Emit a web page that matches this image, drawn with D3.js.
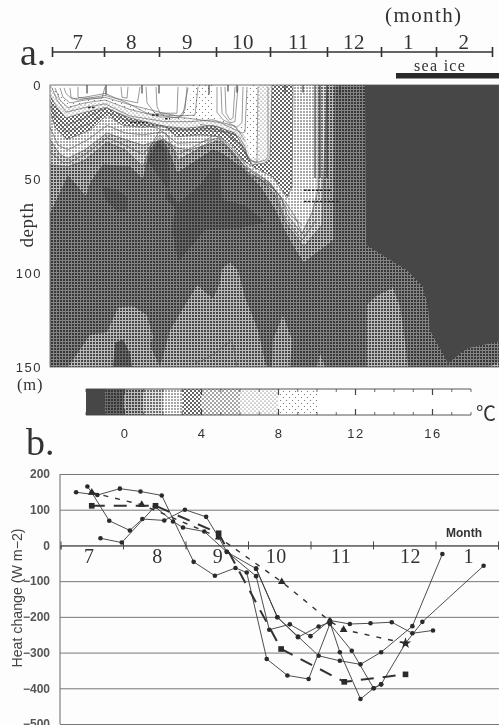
<!DOCTYPE html>
<html><head><meta charset="utf-8">
<script src="https://cdn.jsdelivr.net/npm/d3@7"></script>
<style>html,body{margin:0;padding:0;background:#fdfdfd}svg{display:block}</style>
</head><body><svg id="c" width="499" height="725"></svg>
<script>
// ---------- panel a data: time in steps (1 step = 1/11 month), depth in metres
const monthsTop = ["7","8","9","10","11","12","1","2"];
const legendBreaks = [-2,-1,0,1,2,3,4,6,8,10,18];
const legendTicks = [0,4,8,12,16];
const depthTicks = [0,50,100,150];

const iso0 = [[0,69],[3.6,48.5],[7.2,59.5],[8.2,51.5],[10.6,42.5],[16,43.5],[18.6,50.5],[20,34.5],[22,28],[23.4,33],[25.4,47],[29.4,40],[32.6,34.5],[34.4,36.5],[38,43.5],[42,54],[45,66.5],[47,78],[49.4,89.5],[50.8,94.5],[55,86],[56.6,82.5],[56.8,0],[0,0]];
const iso1 = [[0,42.5],[3.6,43.5],[7,40],[11.4,30.5],[15,34.5],[18.6,43.5],[20,33],[22,24],[23.4,26.5],[25.6,40],[29.4,34.5],[32.6,29],[35,32],[38,40],[40,48],[42.4,50.5],[45,58.5],[47,73],[50.8,86],[54.4,74.5],[55.4,0],[0,0]];
const iso2 = [[0,29],[2,37],[3.6,39],[7,34.5],[11.4,25.5],[15,29],[18.6,32],[22.6,29],[25.4,33.5],[28,34.5],[31,32],[34,29],[36.6,35.5],[38.6,42.5],[40.6,46.5],[44,52],[46.4,61],[47.4,69],[50.4,79],[52.4,68],[53.6,56],[53.6,0],[0,0]];
const iso3 = [[0.2,15],[1,22.5],[3.4,29],[8,24],[11.4,16],[14.6,21.5],[18.6,22.5],[22.6,21.5],[25.4,27.5],[30,26.5],[34,27.5],[36.6,33],[38.6,40],[40.6,43.5],[44.6,49],[46.4,56],[47.4,60],[48.4,54],[48.6,0],[0.2,0]];
const iso6 = [[0,5.5],[1.4,12],[3.2,17.5],[7,14.5],[11,12],[16,17.5],[23,22],[27,23],[32.6,21.5],[37,25.5],[39,34.5],[40.4,42.5],[43,41.5],[44,38.5],[44.4,0],[0,0]];
const iso8 = [[0.4,1.5],[2,8],[3.6,12],[7,10],[11,9],[16,13],[23,17.5],[28,18.5],[32.6,18.5],[37,21.5],[39,26.5],[40,38.5],[41.6,39],[41.6,0],[0.4,0]];
const iso10a = [[1,0],[2.4,6.5],[4,9.5],[11,6.5],[16,10.5],[23,16],[26,17],[28,8],[28.4,0]];
const iso10b = [[32.6,0],[32.6,15],[34.4,18.5],[37.4,23],[39,21],[39.6,0]];
const iceWater = [[63,0],[63.2,77],[63.2,85],[68,93],[71.4,98.5],[74.6,107.5],[75.6,118],[76,130.5],[79.6,148],[83.4,140],[89.8,136.5],[89.8,0]];
const deepPatch1 = [[10.6,54],[13.6,56],[15.6,60],[15.4,66.5],[13.6,67.5],[11,61]];
const deepPatch2 = [[19.4,40],[21.6,30.5],[23.4,35],[24,50.5],[23,60],[25,65.5],[24.4,77],[25.6,94],[31,77],[38,76],[43,73],[39,64],[34.4,61],[34,45],[32.6,44],[30,53],[25.6,63]];
const warmBottoms = [
  [[3.6,150],[8,133],[11.4,131.5],[13.6,118.5],[16.6,117.5],[19.4,122.5],[20.6,134],[20,138.5],[22,150]],
  [[22,150],[24,130.5],[29.4,106.5],[32.6,113.5],[34,105.5],[34.4,97.5],[36,94.5],[37.6,98.5],[39,113],[41.6,130.5],[43,147.5],[43.4,150]],
  [[44.4,150],[44.6,135.5],[46.6,122.5],[48.4,135.5],[48,150]],
  [[53.4,150],[54,143],[55,150]],
  [[63.4,150],[63.4,117],[65.4,112],[68.6,108],[70,118],[70.6,128.5],[71.6,150]],
  [[87.8,150],[89.8,147.5],[89.8,150]]
];
const coldHole = [[12.6,150],[13,137],[14.6,135.5],[16,142.5],[16.4,150]];
const contourLines = [
  [[0.4,1.5],[1.4,8],[3.2,14.5],[7,12],[11,10],[16,16.5],[23,19.5],[28,19.5],[32.6,18.5],[37,22],[39,29.5]],
  [[0,8],[1.2,16],[3.2,21.5],[7,17.5],[11.4,12],[16,18.5],[23,22.5],[27,24],[32.6,23],[37,26.5]],
  [[0,11],[1.2,18.5],[3.2,25],[7.6,21],[11.4,14.5],[16,19.5],[23,24],[30,24],[35,25],[38,32],[40,40]],
  [[0,22.5],[1.6,32],[3.6,34.5],[7.6,29],[11.4,21.5],[15,25.5],[18.6,26.5],[22.6,25],[25.4,31],[30,30.5],[34,28],[37.2,36],[39.6,44],[43,50],[46,59],[48,69],[50.4,74.5]],
  [[0,35.5],[2.4,41],[3.6,41.5],[7,37],[11.4,28],[15,32],[18.6,37],[22,26.5],[25.6,37],[29.4,32],[33,26.5],[36,34.5],[38.6,45],[41.6,49.5],[45,56],[47,71],[50.4,82.5],[53.2,72]],
  [[1,1.5],[2,8],[3.6,12],[7,9.5],[11,8],[16,13],[22,17],[27,17.5],[30,18.5],[34,20],[38.4,25.5],[39,25],[39.4,1]],
  [[2,1.5],[2.6,6.5],[4,9.5],[7,8],[11,6.5],[16,10.5],[22,14.5],[25.6,16.5],[29,16],[29.6,1]],
  [[2.8,1.5],[3.2,4.5],[4.4,7.5],[8,6],[11,4.5],[15.4,9.5],[19.4,15],[25.4,17.5],[26.6,16],[27.6,1.5]],
  [[4,1.5],[4.2,6.5],[5.6,8],[11,5.5],[13,7],[17.5,9.5],[18,1]],
  [[19.2,1],[19.4,9.5],[21,15],[23,16],[26,16.5],[27,13],[27.4,1]],
  [[5.6,1],[5.6,6.5],[6.6,7],[10.4,7],[11,1]],
  [[14.2,1],[14.4,6.5],[15.4,7],[15.6,1]],
  [[21.2,1],[21.4,11.5],[22,15],[25.4,15],[25.6,1]],
  [[35,1],[35.2,15],[36,18.5],[36.6,17.5],[37,1]],
  [[34.2,1],[34.4,15],[36,20],[37,19.5],[37.6,1]],
  [[33.4,1],[33.4,14.5],[34.6,18.5],[37.4,22.5],[38.4,20],[38.6,1]],
  [[30,21],[34,22.5],[38,28],[39,33],[39.6,40],[41.4,41],[41.6,1]],
  [[43.6,1],[43.6,38.5],[43,40],[41,41.5],[39.4,38.5],[38.4,32],[34,24],[30,22.5]],
  [[40.6,48],[44,53],[47,62],[49,70],[50.4,79]],
  [[29,148],[30.4,146.5],[32.6,143.5],[36.4,135.5],[37.4,150]]
];
const darkVerticals = [[[7.4,0],[7.4,4.5]],[[11.2,0],[11.2,5]],[[18.4,0],[18.4,4.5]],[[21.8,0],[21.8,4.5]],[[31.8,0],[31.8,5]],[[35.6,0],[35.6,3.5]],[[37.4,0],[37.4,4]],[[47,0],[47,4]],[[50.6,0],[50.6,4]],[[53,0],[53,49.5]],[[54,0],[54,49.5]],[[55.4,0],[55.4,49.5]],[[58,0],[58,5]]];
const contourLabels = [[[50.8,56],[56,56]],[[50.8,62],[58,62]],[[7.6,12],[9,12]],[[16,20],[19.5,20]],[[20.4,16],[21.8,16]],[[23,18],[24,18]]];

// ---------- panel b data: month position, heat change W m-2
const monthsB = ["7","8","9","10","11","12","1"];
const monthLabelPos = [0.46,1.55,2.52,3.45,4.49,5.6,6.53];
const heatTicks = [200,100,0,-100,-200,-300,-400,-500];
const yearA = [[.25,149],[.59,141],[.95,159],[1.28,151],[1.62,140],[2.13,-46],[2.47,-85],[2.80,-63],[2.98,-76],[3.30,-318],[3.63,-364],[3.97,-374],[4.31,-220],[4.66,-295],[5.01,-400],[5.13,-389],[5.52,-274],[5.79,-214],[6.77,-57]];
const yearB = [[.43,165],[.50,148],[.78,69],[1.11,42],[1.31,74],[1.66,70],[1.99,100],[2.33,80],[2.53,23],[2.66,-18],[3.13,-65],[3.47,-201],[3.80,-255],[4.13,-309],[4.47,-323],[4.80,-333],[5.13,-299],[5.63,-226],[6.11,-24]];
const yearC = [[.64,20],[.98,8],[1.51,109],[1.80,67],[1.96,50],[2.30,39],[2.66,-18],[3.13,-86],[3.34,-236],[3.67,-221],[4.00,-254],[4.31,-210],[4.63,-220],[4.96,-218],[5.30,-215],[5.63,-246],[5.96,-238]];
const yearD = [[3.13,-65],[3.47,-201],[3.80,-257],[4.13,-227],[4.31,-215],[4.47,-299],[4.80,-430],[5.01,-400],[5.13,-389]];
const triangleMean = [[.50,148],[1.30,114],[2.53,23],[3.54,-102],[4.31,-212],[4.53,-236],[5.52,-274]];
const squareMean = [[.50,111],[1.52,111],[2.53,34],[3.53,-290],[4.54,-382],[5.52,-361]];

// ---------- setup
const svg = d3.select("#c");
const defs = svg.append("defs");
defs.append("filter").attr("id","scan").attr("x","0").attr("y","0").attr("width","1").attr("height","1")
  .append("feGaussianBlur").attr("stdDeviation",0.3);
const root = svg.append("g").attr("filter","url(#scan)");
const ink = "#333";
const serif = "'Liberation Serif',serif", sans = "'Liberation Sans',sans-serif";

function gridTone(id,bg,fg){
  const p = defs.append("pattern").attr("id",id).attr("patternUnits","userSpaceOnUse").attr("width",3).attr("height",3);
  p.append("rect").attr("width",3).attr("height",3).attr("fill",fg);
  p.append("rect").attr("width",2).attr("height",2).attr("fill",bg);
}
function dotTone(id,s,r,c){
  const p = defs.append("pattern").attr("id",id).attr("patternUnits","userSpaceOnUse").attr("width",s).attr("height",s);
  p.append("rect").attr("width",s).attr("height",s).attr("fill","#fff");
  p.append("circle").attr("cx",s/4).attr("cy",s/4).attr("r",r).attr("fill",c);
  p.append("circle").attr("cx",3*s/4).attr("cy",3*s/4).attr("r",r).attr("fill",c);
}
gridTone("tDeep","#343434","#6a6a6a");
gridTone("tA","#383838","#848484");
gridTone("t0","#464646","#bcbcbc");
gridTone("t1","#6c6c6c","#e2e2e2");
gridTone("t2","#a8a8a8","#ffffff");
dotTone("t3",4,1.0,"#2e2e2e");
dotTone("t4",4,0.8,"#333");
dotTone("t6",4,0.55,"#444");
dotTone("t8",6,0.6,"#666");
const legendFills = ["#474747","url(#tDeep)","url(#t0)","url(#t1)","url(#t2)","url(#t3)","url(#t4)","url(#t6)","url(#t8)","#fff"];

// ---------- panel a
const x = d3.scaleLinear().domain([0,89.8]).range([50,499]);
const y = d3.scaleLinear().domain([0,150]).range([85,367]);
const line = d3.line().x(d=>x(d[0])).y(d=>y(d[1]));
const fillR = (g,pts,f)=>g.append("path").attr("d",line(pts)+"Z").attr("fill",f);
const cg = root.append("g");
cg.append("rect").attr("x",x(0)).attr("y",y(0)).attr("width",x(89.8)-x(0)).attr("height",y(150)-y(0)).attr("fill","url(#tA)");
fillR(cg,deepPatch1,"url(#tDeep)"); fillR(cg,deepPatch2,"url(#tDeep)");
fillR(cg,iceWater,"#474747");
warmBottoms.forEach(p=>fillR(cg,p,"url(#t0)"));
fillR(cg,coldHole,"url(#tDeep)");
fillR(cg,iso0,"url(#t0)");
fillR(cg,iso1,"url(#t1)");
fillR(cg,iso2,"url(#t2)");
fillR(cg,iso3,"url(#t3)");
fillR(cg,iso6,"url(#t6)");
fillR(cg,iso8,"url(#t8)");
fillR(cg,iso10a,"#fff"); fillR(cg,iso10b,"#fff");
[iso1,iso2,iso3,iso6].forEach(p=>cg.append("path").attr("d",line(p.slice(0,-1))).attr("fill","none").attr("stroke","#555").attr("stroke-width",0.6));
cg.append("path").attr("d",line(iso0.slice(0,21))).attr("fill","none").attr("stroke","#444").attr("stroke-width",0.5);
contourLines.forEach(p=>cg.append("path").attr("d",line(p)).attr("fill","none").attr("stroke","#555").attr("stroke-width",0.6));
darkVerticals.forEach(p=>cg.append("path").attr("d",line(p)).attr("fill","none").attr("stroke","#333").attr("stroke-width",1.1));
contourLabels.forEach(p=>cg.append("path").attr("d",line(p)).attr("fill","none").attr("stroke","#222").attr("stroke-width",1.5).attr("stroke-dasharray","2.5,1.5"));
cg.append("rect").attr("x",x(0)).attr("y",y(0)).attr("width",x(89.8)-x(0)).attr("height",y(150)-y(0)).attr("fill","none").attr("stroke","#555").attr("stroke-width",0.8);

// depth axis labels
const depthAxis = d3.axisLeft(y).tickValues(depthTicks).tickSize(0).tickPadding(8);
const dg = root.append("g").attr("transform",`translate(${x(0)},0)`).call(depthAxis);
dg.select(".domain").remove();
dg.selectAll("text").attr("font-family",sans).attr("font-size",13).attr("letter-spacing",1.5).attr("fill",ink);
const txt=(s,xx,yy,size,fam,anchor,extra)=>{const t=root.append("text").text(s).attr("x",xx).attr("y",yy).attr("font-size",size).attr("font-family",fam).attr("fill",ink).attr("text-anchor",anchor||"start");if(extra)t.attr("letter-spacing",extra);return t;};
root.append("text").text("depth").attr("transform","translate(33,225) rotate(-90)").attr("text-anchor","middle").attr("font-size",19).attr("font-family",serif).attr("fill",ink).attr("letter-spacing",0.6);
txt("(m)",17,390,16.5,serif,"start",0.8);

// top month axis
const topX = d3.scaleLinear().domain(d3.range(9)).range([52,104,159,216,270,327,381,436,492]);
const topAxis = d3.axisTop(topX).tickValues(d3.range(9)).tickSize(5).tickFormat("");
const tg = root.append("g").attr("transform","translate(0,52)").call(topAxis);
tg.select(".domain").attr("d",`M${topX(0)},0H${topX(8)}`).attr("stroke",ink).attr("stroke-width",1.5);
tg.selectAll(".tick line").attr("y1",5).attr("y2",-5).attr("stroke",ink).attr("stroke-width",1.6);
monthsTop.forEach((m,i)=>txt(m,(topX(i)+topX(i+1))/2,49,21,serif,"middle",0.5));
txt("(month)",385,22,21,serif,"start",1.4);
txt("a.",20,65,38,serif);
txt("b.",26,455,38,serif);
txt("sea ice",414,71,16,serif,"start",1.3);
root.append("rect").attr("x",topX(6)+15).attr("y",73).attr("width",499-topX(6)-15).attr("height",5.5).attr("fill","#2c2c2c");

// colour bar
const lx = d3.scaleLinear().domain([-2,18]).range([86,471]);
const lg = root.append("g");
d3.pairs(legendBreaks).forEach((p,i)=>lg.append("rect").attr("x",lx(p[0])).attr("y",389).attr("width",lx(p[1])-lx(p[0])).attr("height",26).attr("fill",legendFills[i]));
lg.append("path").attr("d",`M86,389H471M86,415H471`).attr("stroke","#444").attr("stroke-width",0.9);
d3.range(-2,19).forEach(v=>{const maj=legendTicks.includes(v);const l=maj?6:3;
  lg.append("path").attr("d",`M${lx(v)},389v${l}M${lx(v)},415v${-l}`).attr("stroke","#444").attr("stroke-width",maj?1.2:0.8);});
const lab = d3.axisBottom(lx).tickValues(legendTicks).tickSize(0).tickPadding(9);
const lag = root.append("g").attr("transform","translate(0,420)").call(lab);
lag.select(".domain").remove();
lag.selectAll("text").attr("font-family",sans).attr("font-size",13).attr("letter-spacing",1.5).attr("fill",ink);
txt("℃",476,421,20,"'Noto Sans CJK JP',serif");

// ---------- panel b
const bx = d3.scaleLinear().domain([0,7]).range([60.5,498]);
const by = d3.scaleLinear().domain([-500,200]).range([724,474]);
const yAx = d3.axisLeft(by).tickValues(heatTicks).tickSize(-439).tickPadding(10).tickFormat(d=>String(d).replace("-","−"));
const yg = root.append("g").attr("transform","translate(60,0)").call(yAx);
yg.select(".domain").attr("d","M0,474V724").attr("stroke","#666").attr("stroke-width",1);
yg.selectAll(".tick line").attr("stroke","#777").attr("stroke-width",1);
yg.selectAll("text").attr("font-family",sans).attr("font-size",12).attr("font-weight","bold").attr("fill","#555");
const xAx = d3.axisBottom(bx).tickValues(d3.range(0,8)).tickFormat("").tickSize(4);
const xg = root.append("g").attr("transform",`translate(0,${by(0)})`).call(xAx);
xg.select(".domain").attr("stroke","#444").attr("stroke-width",1);
xg.selectAll(".tick line").attr("y1",-4).attr("y2",4).attr("stroke","#444");
monthsB.forEach((m,i)=>txt(m,bx(monthLabelPos[i]),563,20,serif,"middle",0.5));
txt("Month",446,537,12,sans).attr("font-weight","bold");
root.append("text").text("Heat change (W m−2)").attr("transform","translate(22,598) rotate(-90)").attr("text-anchor","middle").attr("font-size",14.2).attr("font-family",sans).attr("fill","#444");

const hl = d3.line().x(d=>bx(d[0])).y(d=>by(d[1]));
[yearA,yearB,yearC,yearD].forEach(s=>{
  root.append("path").attr("d",hl(s)).attr("fill","none").attr("stroke","#3a3a3a").attr("stroke-width",0.9);
  root.append("g").selectAll("circle").data(s).join("circle").attr("cx",d=>bx(d[0])).attr("cy",d=>by(d[1])).attr("r",2.3).attr("fill","#2a2a2a");
});
root.append("path").attr("d",hl(triangleMean)).attr("fill","none").attr("stroke","#333").attr("stroke-width",1.4).attr("stroke-dasharray","5,7");
root.append("g").selectAll("path").data(triangleMean).join("path")
  .attr("transform",d=>`translate(${bx(d[0])},${by(d[1])})`)
  .attr("d",(d,i)=>d3.symbol().type(i===triangleMean.length-1?d3.symbolStar:d3.symbolTriangle).size(i===triangleMean.length-1?40:26)()).attr("fill","#2a2a2a");
root.append("path").attr("d",hl(squareMean)).attr("fill","none").attr("stroke","#333").attr("stroke-width",2).attr("stroke-dasharray","13,9");
root.append("g").selectAll("path").data(squareMean).join("path")
  .attr("transform",d=>`translate(${bx(d[0])},${by(d[1])})`)
  .attr("d",d3.symbol().type(d3.symbolSquare).size(32)()).attr("fill","#2a2a2a");
</script></body></html>
